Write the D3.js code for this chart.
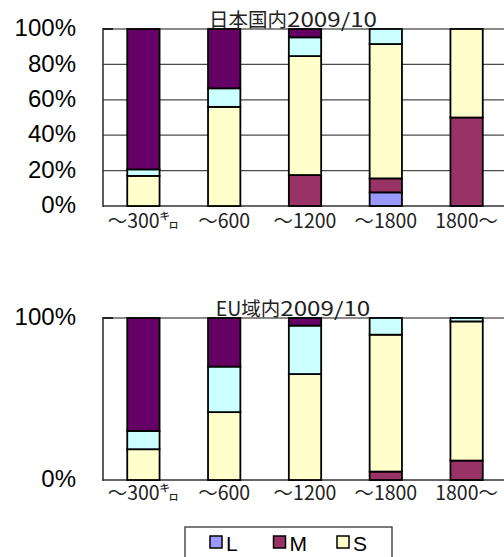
<!DOCTYPE html>
<html><head><meta charset="utf-8">
<script src="https://cdn.jsdelivr.net/npm/d3@7"></script>
<style>
html,body{margin:0;padding:0;background:#fff;overflow:hidden;}
svg{display:block;}
</style></head>
<body>
<svg id="c" width="504" height="557"></svg>
<script>
// ---- data ----
const categories = ["～300㌔", "～600", "～1200", "～1800", "1800～"];
const seriesKeys = ["L", "M", "S", "C", "P"];   // stacked bottom -> top
const legendKeys = ["L", "M", "S"];
const seriesColors = ["#9999FF", "#993366", "#FFFFCC", "#CCFFFF", "#660066"];

// 日本国内2009/10 (%)
const jpL = [0, 0, 0, 7.7, 0];
const jpM = [0, 0, 17.5, 7.9, 50];
const jpS = [17, 56, 67.2, 75.9, 50];
const jpC = [3.7, 10.5, 10.6, 8.5, 0];
const jpP = [79.3, 33.5, 4.7, 0, 0];

// EU域内2009/10 (%)
const euL = [0, 0, 0, 0, 0];
const euM = [0, 0, 0, 5.2, 12];
const euS = [19, 41.9, 65.4, 84.5, 85.9];
const euC = [11.3, 28.1, 29.9, 10.3, 2.1];
const euP = [69.7, 30, 4.7, 0, 0];

const topTicks = [0, 20, 40, 60, 80, 100];
const bottomTicks = [0, 100];
const titleJP = ["日本国内", "2009/10"];
const titleEU = ["EU域内", "2009/10"];

const svg = d3.select("#c");
const color = d3.scaleOrdinal().domain(seriesKeys).range(seriesColors);
const x = d3.scaleBand().domain(categories).range([103, 507]).paddingInner(0.6).paddingOuter(0.3);

function buildRows(L, M, S, C, P) {
  return categories.map((c, i) => ({cat: c, L: L[i], M: M[i], S: S[i], C: C[i], P: P[i]}));
}

function drawChart(rows, yRange, ticks, title, titleY, labelY, showGrid) {
  const y = d3.scaleLinear().domain([0, 100]).range(yRange);
  const g = svg.append("g");
  const gridTicks = showGrid ? ticks.filter(t => t !== 0 && t !== 100) : [];
  g.selectAll(".grid").data(gridTicks).join("line")
    .attr("x1", 103).attr("x2", 504)
    .attr("y1", d => y(d)).attr("y2", d => y(d))
    .attr("stroke", "#4a4a4a").attr("stroke-width", 1.3);
  g.append("line").attr("x1", 103).attr("x2", 504).attr("y1", y(100)).attr("y2", y(100))
    .attr("stroke", "#8a8a8a").attr("stroke-width", 2);
  g.append("line").attr("x1", 103).attr("x2", 504).attr("y1", y(0)).attr("y2", y(0))
    .attr("stroke", "#333").attr("stroke-width", 1.6);
  g.append("line").attr("x1", 103).attr("x2", 103).attr("y1", y(100) - 1).attr("y2", y(0) + 1)
    .attr("stroke", "#333").attr("stroke-width", 1.6);
  g.append("line").attr("x1", 103).attr("x2", 113).attr("y1", y(100)).attr("y2", y(100))
    .attr("stroke", "#222").attr("stroke-width", 2);

  const yAxis = d3.axisLeft(y).tickValues(ticks).tickFormat(d => d + "%").tickSize(0).tickPadding(0);
  const ya = g.append("g").attr("transform", "translate(76,-1)").call(yAxis);
  ya.select(".domain").remove();
  ya.selectAll("text").attr("font-family", "Liberation Sans, Arial, sans-serif")
    .attr("font-size", 24).attr("fill", "#000");

  const stack = d3.stack().keys(seriesKeys)(rows);
  stack.forEach(layer => {
    g.append("g").selectAll("rect")
      .data(layer.filter(d => d[1] - d[0] > 0))
      .join("rect")
      .attr("x", d => x(d.data.cat))
      .attr("width", x.bandwidth())
      .attr("y", d => y(d[1]))
      .attr("height", d => y(d[0]) - y(d[1]))
      .attr("fill", color(layer.key))
      .attr("stroke", "#000").attr("stroke-width", 1.8);
  });

  g.selectAll(".xl").data(categories).join("text")
    .attr("x", d => x(d) + x.bandwidth() / 2)
    .attr("y", labelY)
    .attr("text-anchor", "middle")
    .attr("font-family", "Noto Sans CJK JP, sans-serif")
    .attr("font-size", 19.5)
    .attr("fill", "#222")
    .text(d => d);

  const t = g.append("text").attr("x", 293).attr("y", titleY).attr("text-anchor", "middle")
    .attr("font-family", "Noto Sans CJK JP, sans-serif").attr("font-size", 19.5)
    .attr("fill", "#222");
  t.append("tspan").text(title[0]);
  t.append("tspan").attr("textLength", 90).attr("lengthAdjust", "spacingAndGlyphs").text(title[1]);
}

drawChart(buildRows(jpL, jpM, jpS, jpC, jpP), [206, 29], topTicks, titleJP, 27, 228, true);
drawChart(buildRows(euL, euM, euS, euC, euP), [480, 318], bottomTicks, titleEU, 316, 500, false);

// legend
const lg = svg.append("g");
lg.append("rect").attr("x", 185).attr("y", 527).attr("width", 207).attr("height", 40)
  .attr("fill", "#fff").attr("stroke", "#333").attr("stroke-width", 1.3);
const lx = d3.scalePoint().domain(legendKeys).range([210, 337]);
const items = lg.selectAll(".li").data(legendKeys).join("g")
  .attr("transform", d => `translate(${lx(d)},536)`);
items.append("rect").attr("width", 12).attr("height", 12)
  .attr("fill", d => color(d)).attr("stroke", "#000").attr("stroke-width", 1.5);
items.append("text").attr("x", 16).attr("y", 15)
  .attr("font-family", "Liberation Sans, Arial, sans-serif").attr("font-size", 21)
  .attr("fill", "#000").text(d => d);
</script>
</body></html>
